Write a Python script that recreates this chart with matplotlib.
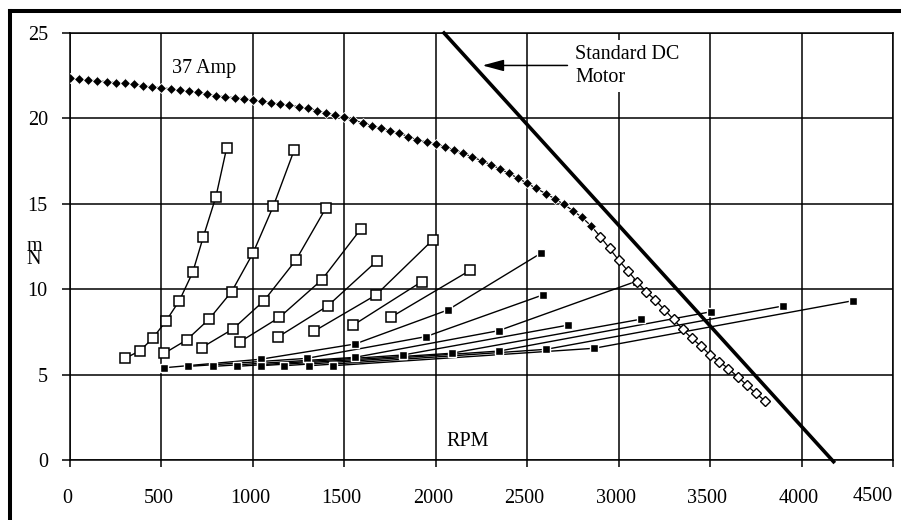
import matplotlib
matplotlib.use("Agg")
import matplotlib.pyplot as plt
from matplotlib.lines import Line2D
import matplotlib.transforms as mtransforms

plt.rcParams['font.family'] = ['Liberation Serif', 'DejaVu Serif']

# ---------------- data ----------------
# 37 Amp curve (RPM, N m)
amp_rpm_filled = list(range(0, 2900, 50))
amp_nm_filled = [22.35, 22.30, 22.25, 22.20, 22.15, 22.10, 22.05, 22.00, 21.90, 21.85,
                 21.80, 21.73, 21.66, 21.59, 21.52, 21.42, 21.33, 21.27, 21.21, 21.15,
                 21.08, 21.00, 20.92, 20.85, 20.78, 20.69, 20.59, 20.46, 20.33, 20.20,
                 20.06, 19.90, 19.75, 19.58, 19.42, 19.28, 19.13, 18.94, 18.74, 18.62,
                 18.50, 18.33, 18.15, 17.95, 17.75, 17.52, 17.30, 17.05, 16.78, 16.50,
                 16.20, 15.90, 15.60, 15.30, 14.97, 14.60, 14.20, 13.70]
amp_rpm_open = list(range(2900, 3850, 50))
amp_nm_open = [13.07, 12.39, 11.70, 11.08, 10.44, 9.85, 9.37, 8.80, 8.24, 7.65,
               7.12, 6.67, 6.15, 5.76, 5.35, 4.88, 4.39, 3.90, 3.47]

# open-square series
open_x = [
    [301, 383, 452, 525, 598, 671, 729, 798, 857],
    [516, 638, 760, 884, 1000, 1112, 1226],
    [720, 891, 1061, 1235, 1398],
    [931, 1145, 1376, 1590],
    [1140, 1409, 1680],
    [1336, 1673, 1983],
    [1549, 1923],
    [1753, 2187],
]
open_y = [
    [5.95, 6.40, 7.12, 8.14, 9.33, 10.99, 13.07, 15.42, 18.29],
    [6.25, 7.03, 8.24, 9.86, 12.10, 14.87, 18.15],
    [6.58, 7.67, 9.33, 11.70, 14.73],
    [6.93, 8.35, 10.54, 13.52],
    [7.22, 9.02, 11.67],
    [7.55, 9.66, 12.88],
    [7.90, 10.44],
    [8.35, 11.10],
]

# filled-square series
fill_x = [
    [514, 1043, 1558, 2065, 2574],
    [647, 1294, 1945, 2584],
    [780, 1558, 2343, 3093],
    [911, 1822, 2725],
    [1043, 2087, 3120],
    [1172, 2347, 3505],
    [1309, 2603, 3900],
    [1436, 2865, 4283],
]
fill_y = [
    [5.40, 5.90, 6.79, 8.78, 12.10],
    [5.48, 5.95, 7.22, 9.66],
    [5.48, 6.01, 7.57, 10.45],
    [5.48, 6.15, 7.90],
    [5.52, 6.25, 8.24],
    [5.52, 6.38, 8.68],
    [5.52, 6.48, 9.02],
    [5.52, 6.54, 9.33],
]

# standard DC motor line
dc_rpm = [2045, 4175]
dc_nm = [25.0, -0.1]

x_ticks = [0, 500, 1000, 1500, 2000, 2500, 3000, 3500, 4000, 4500]
y_ticks = [0, 5, 10, 15, 20, 25]

# ---------------- figure ----------------
W, H = 901, 520
fig = plt.figure(figsize=(W / 100, H / 100), dpi=100)
ax = fig.add_axes([70 / W, (H - 460) / H, (893 - 70) / W, (460 - 33) / H])

ax.set_xlim(0, 4500)
ax.set_ylim(0, 25)
ax.set_xticks(x_ticks)
ax.set_yticks(y_ticks)
ax.set_xticklabels([str(t) for t in x_ticks])
ax.set_yticklabels([str(t) for t in y_ticks])
ax.grid(True, color='black', linewidth=1.1)
ax.set_axisbelow(True)
for s in ax.spines.values():
    s.set_color('black')
    s.set_linewidth(1.1)
ax.tick_params(axis='y', direction='out', length=6, width=1.1, pad=10, labelsize=14.5)
ax.tick_params(axis='x', direction='out', length=5, width=1.1, pad=16, labelsize=14.5)

# shift last x label like the reference
lbls = ax.get_xticklabels()
off = mtransforms.ScaledTranslation(-20 / 100, 2 / 100, fig.dpi_scale_trans)
lbls[-1].set_transform(lbls[-1].get_transform() + off)
shift = mtransforms.ScaledTranslation(-3 / 100, 0, fig.dpi_scale_trans)
for l in lbls[:-1]:
    l.set_transform(l.get_transform() + shift)

# filled-square series
for xs, ys in zip(fill_x, fill_y):
    ax.plot(xs, ys, color='black', lw=1.0, zorder=3)
for xs, ys in zip(fill_x, fill_y):
    ax.plot(xs, ys, ls='none', marker='s', ms=5.8, mfc='black', mec='white', mew=1.0, zorder=4)

# open-square series
for xs, ys in zip(open_x, open_y):
    ax.plot(xs, ys, color='black', lw=1.0, marker='s', ms=6.5, mfc='white', mec='black',
            mew=1.1, zorder=5)

# 37 Amp curve
ax.plot(amp_rpm_filled + amp_rpm_open[:1], amp_nm_filled + amp_nm_open[:1], color='black',
        lw=0.9, zorder=6)
ax.plot(amp_rpm_filled, amp_nm_filled, ls='none', marker='D', ms=4.6, mfc='black',
        mec='white', mew=0.6, zorder=7)
ax.plot(amp_rpm_open, amp_nm_open, color='black', lw=0.9, marker='D', ms=5.0, mfc='white',
        mec='black', mew=1.0, zorder=7)

# standard DC motor line
ax.plot(dc_rpm, dc_nm, color='black', lw=2.6, zorder=8, clip_on=False)

# annotations
ax.text(557, 22.95, '37 Amp', fontsize=14.5, ha='left', va='center', zorder=9)
ax.text(2056, 1.1, 'RPM', fontsize=14.5, ha='left', va='center', zorder=9)
ax.text(2761, 23.07, 'Standard DC\nMotor', fontsize=14.5, ha='left', va='center',
        linespacing=1.25, zorder=9,
        bbox=dict(boxstyle='square,pad=0.25', fc='white', ec='none'))
ax.annotate('', xy=(2255, 23.1), xytext=(2720, 23.1),
            arrowprops=dict(arrowstyle='-|>,head_length=1.3,head_width=0.35',
                            color='black', lw=1.1, shrinkA=0, shrinkB=0), zorder=9)

# y-axis label (stacked)
fig.text(34 / W, (H - 253) / H, 'm\nN', fontsize=14.5, ha='center', va='center',
         linespacing=0.62)

# outer frame (left and top edges only)
fig.add_artist(Line2D([10 / W, 10 / W], [0, (H - 11) / H], transform=fig.transFigure,
                      color='black', lw=2.9, solid_capstyle='projecting'))
fig.add_artist(Line2D([10 / W, 1.0], [(H - 11) / H, (H - 11) / H], transform=fig.transFigure,
                      color='black', lw=2.9, solid_capstyle='projecting'))

fig.savefig('out.png', dpi=100)
